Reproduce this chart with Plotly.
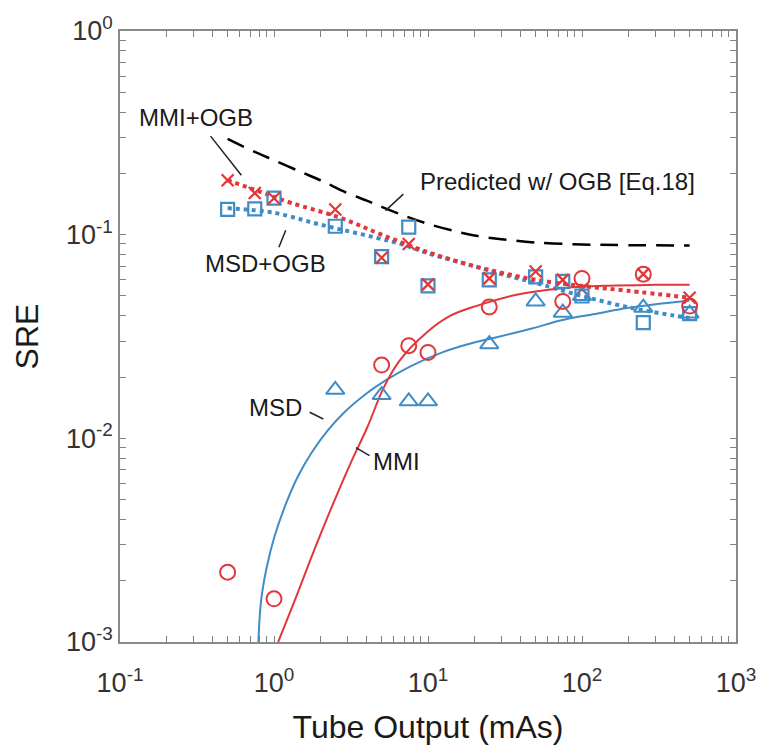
import plotly.graph_objects as go

# ---- data ----
mAs = [0.5, 0.75, 1, 2.5, 5, 7.5, 10, 25, 50, 75, 100, 250, 500]

# MMI + OGB (red x markers)
mmi_ogb = [0.185, 0.160, 0.151, 0.133, 0.077, 0.090, 0.057, 0.061, 0.066, 0.060, 0.054, 0.064, 0.049]
# MSD + OGB (blue squares)
msd_ogb = [0.133, 0.134, 0.151, 0.110, 0.078, 0.109, 0.056, 0.060, 0.062, 0.059, 0.050, 0.037, 0.041]

# MMI (red circles)
mmi_x = [0.5, 1, 5, 7.5, 10, 25, 75, 100, 250, 500]
mmi_y = [0.0022, 0.00163, 0.0229, 0.0285, 0.0264, 0.0442, 0.047, 0.061, 0.064, 0.0446]
# MSD (blue triangles)
msd_x = [2.5, 5, 7.5, 10, 25, 50, 75, 100, 250, 500]
msd_y = [0.0173, 0.0163, 0.0152, 0.0152, 0.029, 0.047, 0.0414, 0.050, 0.0438, 0.041]

# fitted curves
msd_fit_x = [0.792, 0.824, 0.895, 1.013, 1.203, 1.429, 1.741, 2.228, 2.853, 4.03, 5.41, 7.63, 12.5, 20.5, 26.2, 47.2, 73.6, 126.5, 196, 300, 500]
msd_fit_y = [0.001, 0.00159, 0.00231, 0.00334, 0.00483, 0.0065, 0.00843, 0.0109, 0.0134, 0.0167, 0.0194, 0.0225, 0.0265, 0.0297, 0.0310, 0.0346, 0.0380, 0.0410, 0.0436, 0.0455, 0.0475]
mmi_fit_x = [1.064, 1.36, 1.74, 2.34, 3.14, 4.03, 5.15, 6.58, 9.77, 14.0, 20.5, 36.9, 77.3, 150, 300, 500]
mmi_fit_y = [0.001, 0.00159, 0.00258, 0.00449, 0.00754, 0.0113, 0.0177, 0.0242, 0.0330, 0.0400, 0.0446, 0.0505, 0.0547, 0.0562, 0.0567, 0.0568]

mmi_ogb_fit_x = [0.5, 0.8, 1.3, 2.7, 5, 10, 20, 30, 50, 100, 200, 500]
mmi_ogb_fit_y = [0.185, 0.163, 0.143, 0.121, 0.100, 0.082, 0.070, 0.065, 0.060, 0.056, 0.053, 0.049]
msd_ogb_fit_x = [0.5, 1, 2, 4.5, 7, 10, 20, 30, 50, 100, 200, 400, 500]
msd_ogb_fit_y = [0.135, 0.128, 0.112, 0.097, 0.089, 0.081, 0.070, 0.064, 0.058, 0.050, 0.044, 0.040, 0.039]

pred_x = [0.5, 0.75, 1, 1.5, 2, 3, 4, 5, 7, 10, 15, 20, 30, 50, 100, 200, 500]
pred_y = [0.295, 0.255, 0.232, 0.203, 0.185, 0.160, 0.147, 0.137, 0.124, 0.113, 0.104, 0.099, 0.095, 0.0915, 0.0895, 0.0888, 0.0885]

x_tickvals = [0.1, 1, 10, 100, 1000]
x_ticktext = ["10<sup>-1</sup>", "10<sup>0</sup>", "10<sup>1</sup>", "10<sup>2</sup>", "10<sup>3</sup>"]
y_tickvals = [0.001, 0.01, 0.1, 1]
y_ticktext = ["10<sup>-3</sup>", "10<sup>-2</sup>", "10<sup>-1</sup>", "10<sup>0</sup>"]
x_minor = [m * d for d in [0.1, 1, 10, 100] for m in range(2, 10)]
y_minor = [m * d for d in [0.001, 0.01, 0.1] for m in range(2, 10)]

RED = "#e2363b"
BLUE = "#3f8cc6"
FONT = "Liberation Sans, Arial, sans-serif"

fig = go.Figure()

fig.add_trace(go.Scatter(x=pred_x, y=pred_y, mode="lines", line=dict(color="black", width=2.5, dash="18px,10px"), line_shape="spline"))
fig.add_trace(go.Scatter(x=msd_ogb_fit_x, y=msd_ogb_fit_y, mode="lines", line=dict(color=BLUE, width=4, dash="dot"), line_shape="spline"))
fig.add_trace(go.Scatter(x=mmi_ogb_fit_x, y=mmi_ogb_fit_y, mode="lines", line=dict(color=RED, width=4, dash="dot"), line_shape="spline"))
fig.add_trace(go.Scatter(x=msd_fit_x, y=msd_fit_y, mode="lines", line=dict(color=BLUE, width=2), line_shape="spline"))
fig.add_trace(go.Scatter(x=mmi_fit_x, y=mmi_fit_y, mode="lines", line=dict(color=RED, width=2), line_shape="spline"))

fig.add_trace(go.Scatter(x=mAs, y=msd_ogb, mode="markers",
                         marker=dict(symbol="square-open", size=13, color=BLUE, line=dict(width=2.2, color=BLUE))))
fig.add_trace(go.Scatter(x=mAs, y=mmi_ogb, mode="markers",
                         marker=dict(symbol="x-thin-open", size=12, color=RED, line=dict(width=2.2, color=RED))))
fig.add_trace(go.Scatter(x=msd_x, y=msd_y, mode="markers",
                         marker=dict(symbol="triangle-up-open", size=16, color=BLUE, line=dict(width=2, color=BLUE))))
fig.add_trace(go.Scatter(x=mmi_x, y=mmi_y, mode="markers",
                         marker=dict(symbol="circle-open", size=15, color=RED, line=dict(width=2, color=RED))))

axis_common = dict(
    type="log", showgrid=False, zeroline=False, showline=True, linecolor="#8a8a8a", linewidth=1.5,
    mirror="allticks", ticks="inside", ticklen=6, tickcolor="#808080", tickwidth=1.2,
    tickfont=dict(family=FONT, size=27, color="#333333"),
    title_font=dict(family=FONT, size=32, color="#1a1a1a"),
)

fig.update_xaxes(range=[-1, 3], tickmode="array", tickvals=x_tickvals + x_minor,
                 ticktext=x_ticktext + [""] * len(x_minor), ticklabelstandoff=16,
                 title_text="Tube Output (mAs)", title_standoff=18, **axis_common)
fig.update_yaxes(range=[-3, 0], tickmode="array", tickvals=y_tickvals + y_minor,
                 ticktext=y_ticktext + [""] * len(y_minor),
                 title_text="SRE", title_standoff=18, **axis_common)

# callout labels (paper coordinates)
labels = [
    ("MMI+OGB", 0.1234, 0.859),
    ("MSD+OGB", 0.237, 0.619),
    ("Predicted w/ OGB [Eq.18]", 0.710, 0.754),
    ("MSD", 0.253, 0.384),
    ("MMI", 0.449, 0.296),
]
for txt, px, py in labels:
    fig.add_annotation(x=px, y=py, xref="paper", yref="paper", text=txt, showarrow=False,
                       font=dict(family=FONT, size=24, color="#1a1a1a"), xanchor="center", yanchor="middle")

leaders = [
    (0.147, 0.828, 0.197, 0.764),
    (0.269, 0.674, 0.258, 0.646),
    (0.460, 0.733, 0.431, 0.706),
    (0.308, 0.376, 0.330, 0.365),
    (0.383, 0.318, 0.405, 0.305),
]
for x0, y0, x1, y1 in leaders:
    fig.add_shape(type="line", xref="paper", yref="paper", x0=x0, y0=y0, x1=x1, y1=y1,
                  line=dict(color="#222222", width=1.5))

fig.update_layout(
    width=768, height=751,
    margin=dict(l=120, r=24, t=20, b=109),
    plot_bgcolor="white", paper_bgcolor="white",
    showlegend=False,
)

fig.write_html("out.html")
